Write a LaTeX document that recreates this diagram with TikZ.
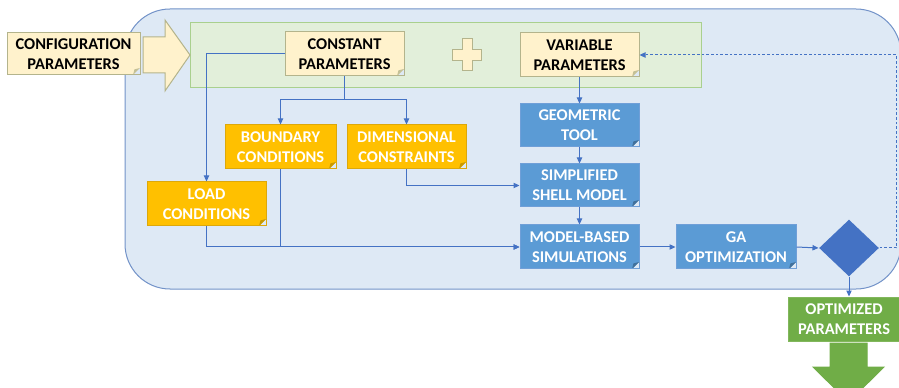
\documentclass[tikz,border=0pt]{standalone}
\usepackage{fontspec}
\setmainfont{Carlito}
\usetikzlibrary{arrows.meta,shapes.geometric}

\definecolor{bgfill}{HTML}{DEE9F5}
\definecolor{bgline}{HTML}{7292C8}
\definecolor{grfill}{HTML}{E2EFDA}
\definecolor{grline}{HTML}{A9D08E}
\definecolor{crfill}{HTML}{FFF2CC}
\definecolor{crline}{HTML}{B4B48C}
\definecolor{crfold}{HTML}{C4C096}
\definecolor{orfill}{HTML}{FFC000}
\definecolor{orline}{HTML}{DDA80A}
\definecolor{orfold}{HTML}{C99A00}
\definecolor{blfill}{HTML}{5B9BD5}
\definecolor{blline}{HTML}{6F9FD8}
\definecolor{blfold}{HTML}{41719C}
\definecolor{dmfill}{HTML}{4472C4}
\definecolor{okfill}{HTML}{70AD47}
\definecolor{okline}{HTML}{82B75C}
\definecolor{arrcol}{HTML}{4472C4}

\tikzset{every picture/.style={line width=0.75pt}}
\tikzset{
  fold/.style={path picture={
      \coordinate (se) at (path picture bounding box.south east);
      \fill[bgfill] ([xshift=-5.25pt]se) -- (se) -- ([yshift=5.25pt]se) -- cycle;
      \fill[#1] ([xshift=-5.25pt]se) -- ([yshift=5.25pt]se) -- ([xshift=-4.2pt,yshift=4.2pt]se) -- cycle;}},
  box/.style={rectangle, inner sep=0pt, align=center, minimum width=89.25pt, minimum height=33pt,
      font=\bfseries\fontsize{12.3}{15}\selectfont},
  creambox/.style={box, fill=crfill, draw=crline, text=black, fold=crfold},
  orangebox/.style={box, fill=orfill, draw=orline, text=white, fold=orfold},
  bluebox/.style={box, fill=blfill, draw=blline, text=white, fold=blfold},
  link/.style={draw=arrcol, line width=0.75pt, -{Triangle[length=4.5pt,width=4pt]}},
}

\begin{document}
\begin{tikzpicture}[x=0.75pt,y=0.75pt,yscale=-1]
	\useasboundingbox (0,0) rectangle (899,388);
	
	%Shape: Rounded Rect [id:background]
	\draw [fill=bgfill, draw=bgline, rounded corners=33.75pt] (125,9) rectangle (901,289) ;
	%Shape: Rectangle [id:parameters]
	\draw [fill=grfill, draw=grline] (190,23) rectangle (701,88) ;
	%Shape: Right Arrow [id:input arrow]
	\draw [fill=crfill, draw=crline] (143,37) -- (165,37) -- (165,20) -- (190,55) -- (165,91) -- (165,73) -- (143,73) -- cycle ;
	%Shape: Plus [id:plus]
	\draw [fill=crfill, draw=crline] (462,39) -- (472,39) -- (472,50) -- (481,50) -- (481,61) -- (472,61) -- (472,71) -- (462,71) -- (462,61) -- (452,61) -- (452,50) -- (462,50) -- cycle ;
	%Shape: Down Arrow [id:output arrow]
	\draw [fill=okfill, draw=okfill] (830,343) -- (867,343) -- (867,367) -- (884,367) -- (848.5,402) -- (813,367) -- (830,367) -- cycle ;
	
	% Text Node
	\node [creambox, minimum width=99.75pt, minimum height=31.5pt] (config) at (73.5,54) {CONFIGURATION\\PARAMETERS};
	% Text Node
	\node [creambox] (const) at (344.5,54) {CONSTANT\\PARAMETERS};
	% Text Node
	\node [creambox] (var) at (579.5,55) {VARIABLE\\PARAMETERS};
	% Text Node
	\node [orangebox, minimum width=83.25pt] (bound) at (280.5,147) {BOUNDARY\\CONDITIONS};
	% Text Node
	\node [orangebox] (dim) at (406.5,147) {DIMENSIONAL\\CONSTRAINTS};
	% Text Node
	\node [orangebox] (load) at (206.5,204) {LOAD\\CONDITIONS};
	% Text Node
	\node [bluebox, minimum height=32.25pt] (geom) at (579.5,125.5) {GEOMETRIC\\TOOL};
	% Text Node
	\node [bluebox, minimum height=32.25pt] (shell) at (579.5,185.5) {SIMPLIFIED\\SHELL MODEL};
	% Text Node
	\node [bluebox] (sim) at (579.5,247) {MODEL-BASED\\SIMULATIONS};
	% Text Node
	\node [bluebox, minimum width=90pt] (ga) at (736,247) {GA\\OPTIMIZATION};
	% Shape: Diamond
	\node [diamond, fill=dmfill, inner sep=0pt, minimum width=45pt, minimum height=42.75pt] (check) at (849,248) {};
	% Text Node
	\node [box, fill=okfill, draw=okline, text=white, minimum width=84pt] (opt) at (844,319) {OPTIMIZED\\PARAMETERS};
	
	\coordinate (split) at (344.5,100);
	\coordinate (back) at (896,248);
	
	%Straight Lines
	\draw [link] (const.west) -| (load.north);
	\draw [draw=arrcol] (const.south) -- (split);
	\draw [link] (split) -| (bound.north);
	\draw [link] (split) -| (dim.north);
	\draw [link] (dim.south) |- (shell.west);
	\draw [link] (bound.south) |- (sim.west);
	\draw [link] (load.south) |- (sim.west);
	\draw [link] (var.south) -- (geom.north);
	\draw [link] (geom.south) -- (shell.north);
	\draw [link] (shell.south) -- (sim.north);
	\draw [link] (sim.east) -- (ga.west);
	\draw [link] (ga.east) -- (check.west);
	\draw [link] (check.south) -- (check.south |- opt.north);
	\draw [link, dash pattern=on 2pt off 1.5pt] (check.east) -- (back) |- (var.east);
	
\end{tikzpicture}
\end{document}
